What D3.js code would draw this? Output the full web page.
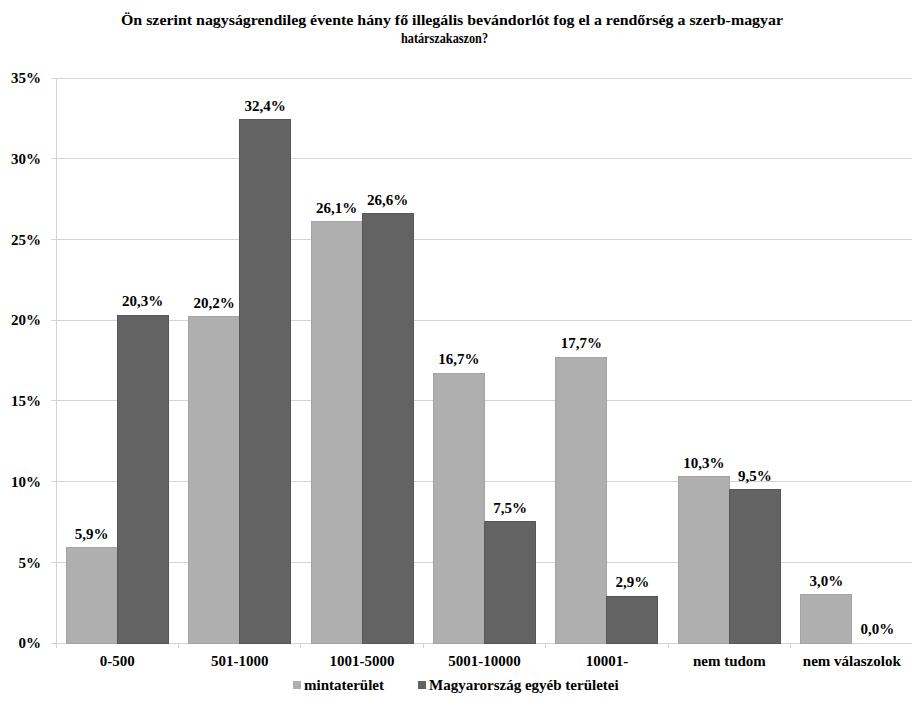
<!DOCTYPE html>
<html><head><meta charset="utf-8">
<script src="https://cdn.jsdelivr.net/npm/d3@7"></script>
<style>body{margin:0;background:#fff;}</style></head>
<body><svg id="c" width="912" height="718"></svg>
<script>
const categories = ["0-500","501-1000","1001-5000","5001-10000","10001-","nem tudom","nem válaszolok"];
const seriesNames = ["mintaterület","Magyarország egyéb területei"];
const mintaterulet = [5.9,20.2,26.1,16.7,17.7,10.3,3.0];
const egyeb = [20.3,32.4,26.6,7.5,2.9,9.5,0.0];
const yTicks = [0,5,10,15,20,25,30,35];
const titleLines = ["Ön szerint nagyságrendileg évente hány fő illegális bevándorlót fog el a rendőrség a szerb-magyar","határszakaszon?"];
const colors = ["#afafaf","#636363"];

(function(){
const FONT = "serif";
const svg = d3.select("#c");
const pLeft = 56, pRight = 913, pTop = 78, pBottom = 643;
const x = d3.scaleBand().domain(categories).range([pLeft,pRight]).padding(0);
const xs = d3.scaleBand().domain([0,1]).range([0,x.bandwidth()]).paddingInner(0).paddingOuter(0.2);
const y = d3.scaleLinear().domain([0,35]).range([pBottom,pTop]);
const styleText = sel => sel.attr("font-family",FONT).attr("font-weight","bold").attr("fill","#000");

svg.append("g").selectAll("line").data(yTicks).join("line")
  .attr("x1",pLeft-5).attr("x2",pRight).attr("y1",d=>y(d)).attr("y2",d=>y(d))
  .attr("stroke","#d4d4d4").attr("stroke-width",1).attr("shape-rendering","crispEdges");

svg.append("g").selectAll("text").data(yTicks).join("text")
  .attr("x",41).attr("y",d=>y(d)).attr("dy","0.35em").attr("text-anchor","end")
  .attr("font-size",15).call(styleText).text(d=>d+"%");

svg.append("line").attr("x1",pLeft).attr("x2",pLeft).attr("y1",pTop).attr("y2",pBottom+5)
  .attr("stroke","#d4d4d4").attr("shape-rendering","crispEdges");

svg.append("g").selectAll("line").data(categories.slice(1)).join("line")
  .attr("x1",d=>x(d)).attr("x2",d=>x(d)).attr("y1",pBottom).attr("y2",pBottom+5)
  .attr("stroke","#d4d4d4").attr("shape-rendering","crispEdges");

const series = [mintaterulet, egyeb];
const data = [];
categories.forEach((c,i)=>series.forEach((s,j)=>data.push({c,j,v:s[i]})));

svg.append("g").selectAll("rect").data(data).join("rect")
  .attr("x",d=>x(d.c)+xs(d.j)).attr("width",xs.bandwidth())
  .attr("y",d=>y(d.v)).attr("height",d=>pBottom-y(d.v))
  .attr("fill",d=>colors[d.j]).attr("stroke",d=>d.j?"#575757":"#a3a3a3").attr("stroke-width",1)
  .attr("shape-rendering","crispEdges");

svg.append("g").selectAll("text").data(data).join("text")
  .attr("x",d=>x(d.c)+xs(d.j)+xs.bandwidth()/2).attr("y",d=>y(d.v)-9)
  .attr("text-anchor","middle").attr("font-size",15).call(styleText)
  .text(d=>d3.format(".1f")(d.v).replace(".",",")+"%");

svg.append("g").selectAll("text").data(categories).join("text")
  .attr("x",d=>x(d)+x.bandwidth()/2).attr("y",666).attr("text-anchor","middle")
  .attr("font-size",15).call(styleText).text(d=>d);

const tW = [662, 87], tC = [452, 444.5];
svg.append("g").selectAll("text").data(titleLines).join("text")
  .attr("x",(d,i)=>tC[i]-tW[i]/2).attr("y",(d,i)=>25+i*18)
  .attr("font-size",15).call(styleText)
  .attr("textLength",(d,i)=>tW[i]).attr("lengthAdjust","spacingAndGlyphs").text(d=>d);

const leg = svg.append("g");
const legItems = [{n:seriesNames[0],x:293,c:colors[0]},{n:seriesNames[1],x:418,c:colors[1]}];
legItems.forEach(it=>{
  leg.append("rect").attr("x",it.x).attr("y",681).attr("width",8).attr("height",8).attr("fill",it.c);
  leg.append("text").attr("x",it.x+11).attr("y",690).attr("font-size",15).call(styleText).text(it.n);
});
})();
</script></body></html>
